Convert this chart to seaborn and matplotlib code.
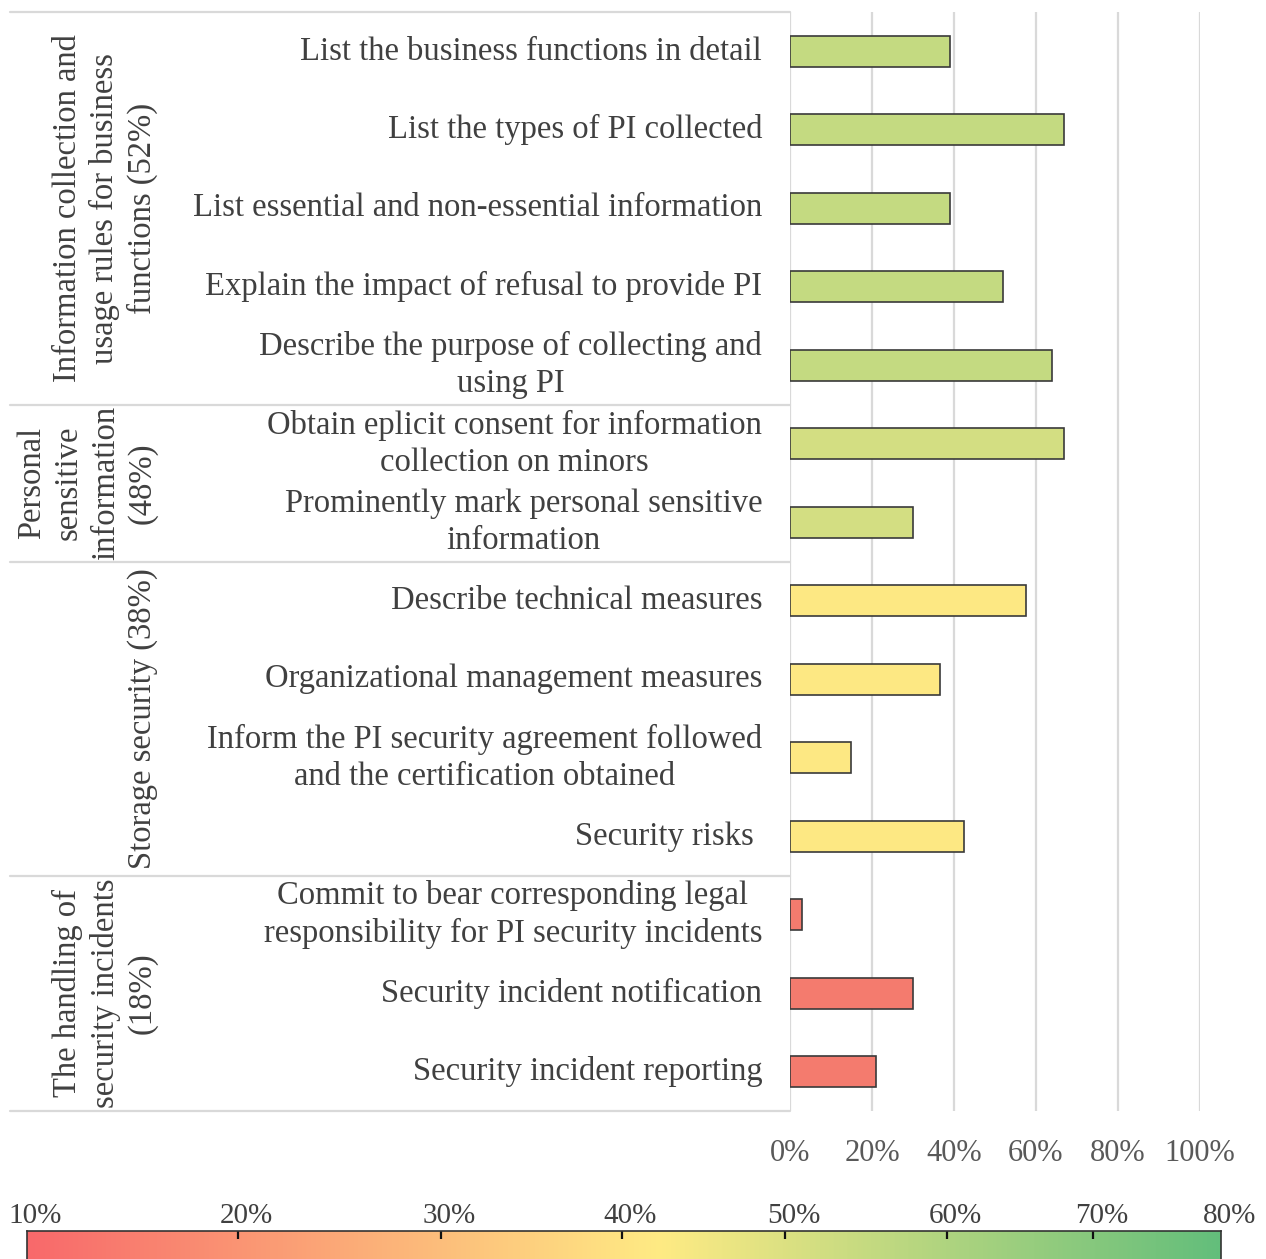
import numpy as np
import pandas as pd
import matplotlib
matplotlib.use("Agg")
import matplotlib.pyplot as plt
import matplotlib.transforms as mtransforms
from matplotlib.colors import LinearSegmentedColormap
from matplotlib.lines import Line2D
import seaborn as sns

# ---- data -------------------------------------------------------------
items = [
    "List the business functions in detail",
    "List the types of PI collected",
    "List essential and non-essential information",
    "Explain the impact of refusal to provide PI",
    "Describe the purpose of collecting and\nusing PI",
    "Obtain eplicit consent for information\ncollection on minors",
    "Prominently mark personal sensitive\ninformation",
    "Describe technical measures",
    "Organizational management measures",
    "Inform the PI security agreement followed\nand the certification obtained",
    "Security risks ",
    "Commit to bear corresponding legal\nresponsibility for PI security incidents",
    "Security incident notification",
    "Security incident reporting",
]
item_group = ["info", "info", "info", "info", "info",
              "sensitive", "sensitive",
              "storage", "storage", "storage", "storage",
              "incident", "incident", "incident"]
coverage = [39, 67, 39, 52, 64,
            67, 30,
            57.6, 36.5, 15, 42.5,
            3, 30, 21]

groups = ["info", "sensitive", "storage", "incident"]
group_labels = [
    "Information collection and\nusage rules for business\nfunctions (52%)",
    "Personal\nsensitive\ninformation\n(48%)",
    "Storage security (38%)",
    "The handling of\nsecurity incidents\n(18%)",
]
group_colors = ["#C4DA81", "#D3DE82", "#FDE883", "#F47B6E"]

x_ticks = [0, 20, 40, 60, 80, 100]
x_tick_labels = ["0%", "20%", "40%", "60%", "80%", "100%"]

scale_labels = ["10%", "20%", "30%", "40%", "50%", "60%", "70%", "80%"]
scale_colors = ["#F8696B", "#FFEB84", "#63BE7B"]

df = pd.DataFrame({"item": items, "group": item_group, "coverage": coverage})

# ---- layout (pixels of the 1266 x 1259 canvas) --------------------------
W, H = 1266, 1259
plot_left, plot_right = 790, 1199.7
plot_top, plot_bottom = 12, 1111
table_left = 10
group_text_right = 158
scale_left, scale_right, scale_top = 26.7, 1220.7, 1231
scale_tick_px = [26.7, 238, 441, 622, 785.3, 947, 1093, 1220.7]
line_gap = 1.27

sns.set_style("white")
plt.rcParams["font.family"] = ["Liberation Serif", "DejaVu Serif"]

fig = plt.figure(figsize=(W / 100, H / 100), dpi=100)

ax = fig.add_axes([plot_left / W, 1 - plot_bottom / H,
                   (plot_right - plot_left) / W, (plot_bottom - plot_top) / H])

sns.barplot(data=df, x="coverage", y="item", hue="group", hue_order=groups,
            palette=dict(zip(groups, group_colors)), saturation=1,
            dodge=False, width=0.4, edgecolor="#3a3a3a", linewidth=1.2,
            legend=False, ax=ax, orient="h")

ax.set_xlim(0, 100)
ax.set_ylim(len(items) - 0.5, -0.5)
ax.set_xticks(x_ticks)
ax.set_xticklabels(x_tick_labels)
ax.set_xlabel("")
ax.set_ylabel("")
ax.grid(axis="x", color="#d9d9d9", linewidth=1.6)
ax.grid(axis="y", visible=False)
ax.set_axisbelow(True)
for s in ax.spines.values():
    s.set_visible(False)
ax.tick_params(axis="x", length=0, pad=20, labelsize=22, labelcolor="#595959")
ax.tick_params(axis="y", length=0, pad=20, labelsize=23.5, labelcolor="#404040")
for lab in ax.get_yticklabels():
    lab.set_multialignment("center")
    lab.set_verticalalignment("center")
    lab.set_linespacing(line_gap)

# ---- category table on the left ----------------------------------------
tr = mtransforms.blended_transform_factory(fig.transFigure, ax.transData)
bounds = [-0.5]
for g in groups:
    bounds.append(bounds[-1] + item_group.count(g))
for b in bounds:
    ax.add_line(Line2D([table_left / W, plot_left / W], [b, b], transform=tr,
                       color="#d9d9d9", linewidth=1.6, clip_on=False))
for g, lab, lo, hi in zip(groups, group_labels, bounds[:-1], bounds[1:]):
    ax.text(group_text_right / W, (lo + hi) / 2, lab, transform=tr,
            rotation=90, ha="right", va="center", multialignment="center",
            linespacing=line_gap, fontsize=23.5, color="#404040",
            clip_on=False)

# ---- colour scale along the bottom --------------------------------------
cax = fig.add_axes([scale_left / W, -0.03, (scale_right - scale_left) / W,
                    0.03 + 1 - scale_top / H])
cmap = LinearSegmentedColormap.from_list(
    "scale", list(zip([0.0, 0.53, 1.0], scale_colors)))
grad = np.linspace(0, 1, 512)[None, :]
cax.imshow(grad, aspect="auto", cmap=cmap, extent=[0, 1, 0, 1])
cax.set_xlim(0, 1)
cax.set_ylim(0, 1)
tick_frac = [(p - scale_left) / (scale_right - scale_left) for p in scale_tick_px]
cax.xaxis.set_ticks_position("top")
cax.set_xticks(tick_frac[1:-1])
cax.set_xticklabels([])
cax.set_yticks([])
cax.tick_params(axis="x", direction="in", length=6, width=1.6, color="#111111")
for s in cax.spines.values():
    s.set_color("#333333")
    s.set_linewidth(1.2)
lab_tr = mtransforms.offset_copy(cax.get_xaxis_transform(), fig=fig,
                                 x=8.5, y=8, units="dots")
for f, lab in zip(tick_frac, scale_labels):
    cax.text(f, 1, lab, transform=lab_tr, ha="center", va="baseline",
             fontsize=21, color="#404040", clip_on=False)

fig.savefig("out.png", dpi=100)
